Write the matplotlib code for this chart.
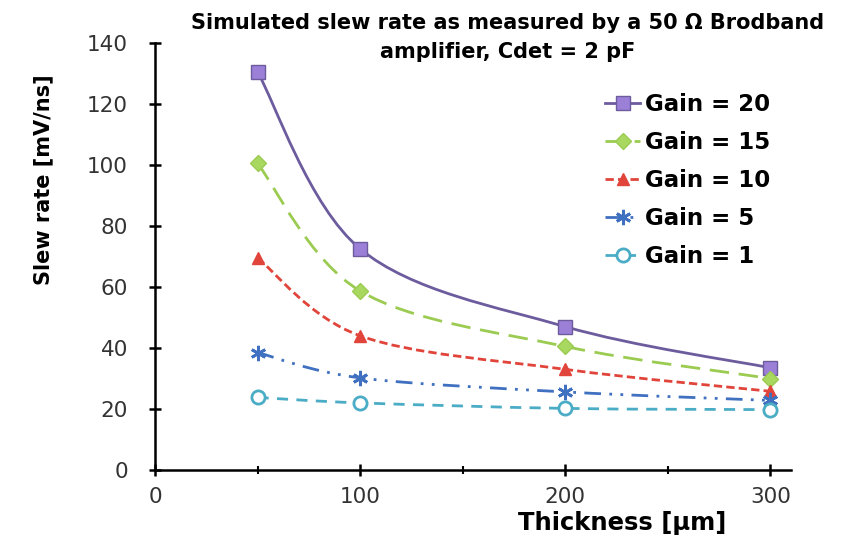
import numpy as np
import matplotlib
matplotlib.use("Agg")
import matplotlib.pyplot as plt
from matplotlib.path import Path
from matplotlib.patches import PathPatch
from matplotlib.lines import Line2D
from matplotlib.ticker import MultipleLocator

plt.rcParams['font.family'] = ['DejaVu Sans']

thickness = [50, 100, 200, 300]
gain_20 = [130.5, 72.5, 47, 33.5]
gain_15 = [100.5, 58.7, 40.5, 30]
gain_10 = [69.5, 44, 33, 25.8]
gain_5 = [38.5, 30.2, 25.6, 22.8]
gain_1 = [23.8, 22, 20.2, 19.8]
labels = ["Gain = 20", "Gain = 15", "Gain = 10", "Gain = 5", "Gain = 1"]

series = [gain_20, gain_15, gain_10, gain_5, gain_1]
colors = ["#6c5c9e", "#9bcb50", "#e0443a", "#4070c0", "#4bacc6"]
face = ["#9c80d8", "#a8d860", "#e0443a", "#4a7ad0", "white"]
dashes = [None, (7, 3.5), (3, 1.5), (6, 3, 1, 3, 1, 3), (4, 3)]
markers = ["s", "D", "^", (6, 2, 0), "o"]
msizes = [10.5, 8, 9, 11, 9.5]


def smooth_path(x, y):
    # excel style smoothed line: bezier through the points
    p = np.column_stack([x, y]).astype(float)
    n = len(p)
    verts = [p[0]]
    codes = [Path.MOVETO]
    for i in range(n - 1):
        p0 = p[i - 1] if i > 0 else p[i]
        p3 = p[i + 2] if i + 2 < n else p[i + 1]
        c1 = p[i] + (p[i + 1] - p0) / 6
        c2 = p[i + 1] - (p3 - p[i]) / 6
        verts += [c1, c2, p[i + 1]]
        codes += [Path.CURVE4] * 3
    return Path(verts, codes)


fig = plt.figure(figsize=(8.54, 5.46), dpi=100)
ax = fig.add_axes([155 / 854, 1 - 470 / 546, (791 - 155) / 854, (470 - 43) / 546])

handles = []
for vals, c, fc, d, m, ms, lab in zip(series, colors, face, dashes, markers, msizes, labels):
    patch = PathPatch(smooth_path(thickness, vals), facecolor="none", edgecolor=c, lw=2)
    if d is not None:
        patch.set_linestyle((0, d))
    ax.add_patch(patch)
    mew = 2 if m == "o" or isinstance(m, tuple) else 1
    ax.plot(thickness, vals, ls="none", marker=m, ms=ms, mfc=fc, mec=c, mew=mew, zorder=3)
    h = Line2D([], [], color=c, lw=2, marker=m, ms=ms, mfc=fc, mec=c, mew=mew)
    if d is not None:
        h.set_dashes(d)
    handles.append(h)

ax.set_xlim(0, 310)
ax.set_ylim(0, 140)
ax.set_xticks([0, 100, 200, 300])
ax.xaxis.set_minor_locator(MultipleLocator(50))
ax.yaxis.set_major_locator(MultipleLocator(20))
for s in ["top", "right"]:
    ax.spines[s].set_visible(False)
for s in ["left", "bottom"]:
    ax.spines[s].set_linewidth(1.8)
ax.tick_params(axis="both", which="major", direction="inout", length=9, width=1.8,
               labelsize=15.5, labelcolor="#333333")
ax.tick_params(axis="x", which="minor", direction="inout", length=6, width=1.5)
ax.tick_params(axis="x", pad=8)
ax.tick_params(axis="y", pad=15)

ax.set_xlabel("Thickness [μm]", fontsize=17.5, fontweight="bold")
ax.xaxis.set_label_coords(0.735, -0.095)
ax.set_ylabel("Slew rate [mV/ns]", fontsize=15, fontweight="bold")
ax.yaxis.set_label_coords(-0.16, 0.68)

fig.text(508 / 854, 1 - 13 / 546, "Simulated slew rate as measured by a 50 Ω Brodband\namplifier, Cdet = 2 pF",
         ha="center", va="top", fontsize=15, fontweight="bold", linespacing=1.55)

ax.legend(handles, labels, loc="upper left", bbox_to_anchor=(0.693, 0.905), frameon=False,
          prop={"weight": "bold", "size": 16.5}, handlelength=1.55,
          handletextpad=0.2, labelspacing=0.66, borderaxespad=0)

fig.savefig("out.png", dpi=100)
